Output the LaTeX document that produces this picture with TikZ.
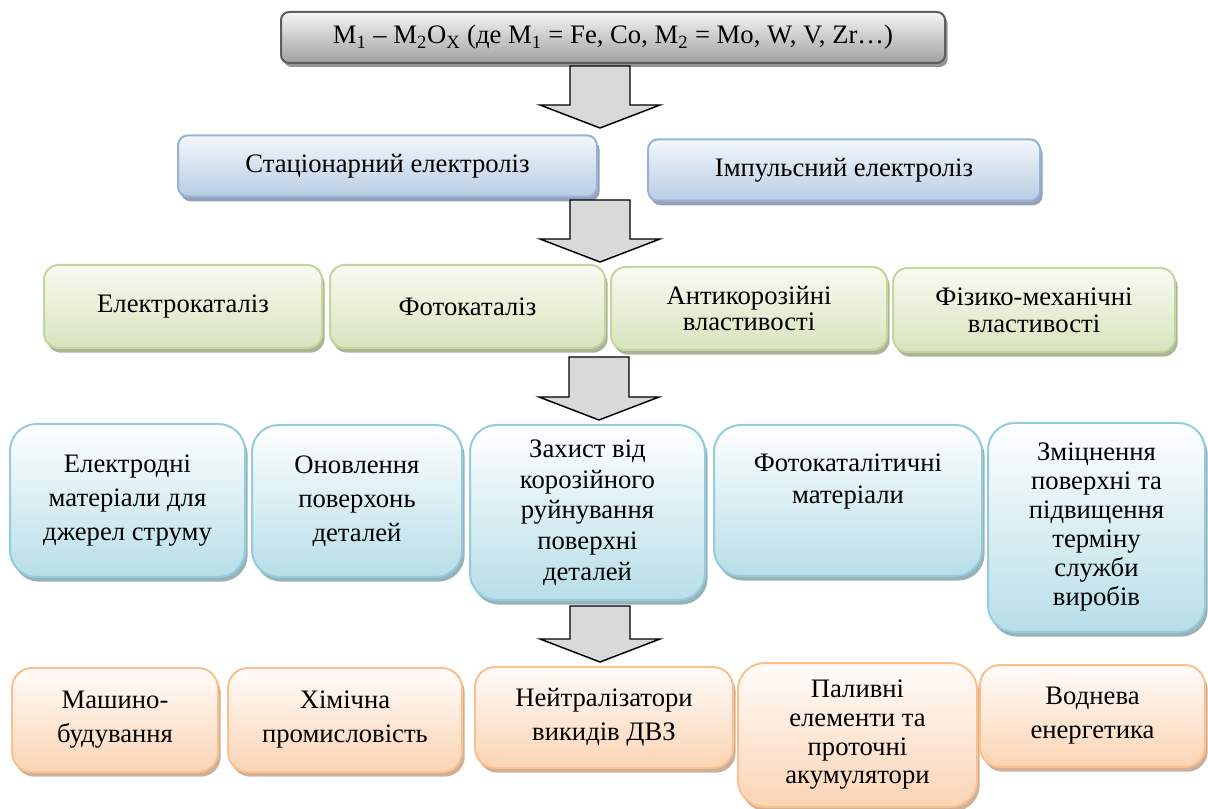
\documentclass[tikz,border=0pt]{standalone}
\usepackage{fontspec}
\setmainfont{Liberation Serif}
\usepackage{xcolor}
\usepackage{tikz}
\usetikzlibrary{shadows}
\definecolor{gline}{HTML}{5E5E5E}
\definecolor{gtop}{HTML}{F5F5F5}
\definecolor{gbot}{HTML}{A0A0A0}
\definecolor{gshade}{HTML}{8A8A8A}
\definecolor{bline}{HTML}{95B3D7}
\definecolor{btop}{HTML}{F3F6FB}
\definecolor{bbot}{HTML}{B9CDE5}
\definecolor{bshade}{HTML}{8798AE}
\definecolor{lline}{HTML}{C3D69B}
\definecolor{ltop}{HTML}{F8FBF2}
\definecolor{lbot}{HTML}{D7E4BD}
\definecolor{lshade}{HTML}{A2AC8C}
\definecolor{cline}{HTML}{93CDDD}
\definecolor{ctop}{HTML}{FFFFFF}
\definecolor{cbot}{HTML}{B7DEE8}
\definecolor{cshade}{HTML}{8EA8B0}
\definecolor{oline}{HTML}{FAC090}
\definecolor{otop}{HTML}{FFFCFA}
\definecolor{obot}{HTML}{FBD4B4}
\definecolor{oshade}{HTML}{C8A78C}
\definecolor{afill}{HTML}{D9D9D9}

\begin{document}
\begin{tikzpicture}[x=0.75pt,y=-0.75pt,
  card/.style={align=center,line width=1.5pt,inner sep=2pt,
    font=\fontsize{20}{25.5}\selectfont},
  lines/.style={font=\fontsize{20}{#1}\selectfont},
  oxidebox/.style={card,rounded corners=6pt,draw=gline,top color=gtop,bottom color=gbot,
    drop shadow={shadow xshift=2pt,shadow yshift=-3pt,fill=gshade,opacity=.9}},
  method/.style={card,rounded corners=7.5pt,draw=bline,top color=btop,bottom color=bbot,
    drop shadow={shadow xshift=2pt,shadow yshift=-3.5pt,fill=bshade,opacity=.9}},
  prop/.style={card,rounded corners=11pt,draw=lline,top color=ltop,bottom color=lbot,
    drop shadow={shadow xshift=2pt,shadow yshift=-3.5pt,fill=lshade,opacity=.9}},
  usage/.style={card,rounded corners=20pt,draw=cline,top color=ctop,bottom color=cbot,
    drop shadow={shadow xshift=2pt,shadow yshift=-3.5pt,fill=cshade,opacity=.9}},
  field/.style={card,rounded corners=15pt,draw=oline,top color=otop,bottom color=obot,
    drop shadow={shadow xshift=2pt,shadow yshift=-3.5pt,fill=oshade,opacity=.9}},
  pics/downarrow/.style={code={
    \draw[line width=1.1pt,fill=afill,line join=miter]
      (-30,0) -- (30,0) -- (30,#1-23) -- (60,#1-23) -- (0,#1)
      -- (-60,#1-23) -- (-30,#1-23) -- cycle;}}]
\useasboundingbox (0,0) rectangle (1208,809);
% source
\node[oxidebox,minimum width=498pt,minimum height=38.25pt] (oxide) at (613,37.5)
  {M\textsubscript{1} – M\textsubscript{2}O\textsubscript{X} (де M\textsubscript{1} = Fe, Co, M\textsubscript{2} = Mo, W, V, Zr…)};
% deposition
\node[method,minimum width=314.25pt,minimum height=46pt] (stat) at (387.5,166) {Стаціонарний електроліз};
\node[method,minimum width=294pt,minimum height=46pt] (imp) at (844,170) {Імпульсний електроліз};
% properties
\node[prop,minimum width=208.5pt,minimum height=62.25pt] (elcat) at (183,306.5) {Електрокаталіз};
\node[prop,minimum width=206.25pt,minimum height=62.25pt] (photcat) at (467.5,306.5) {Фотокаталіз};
\node[prop,lines=20pt,minimum width=207pt,minimum height=62.25pt] (anticor) at (749,308.5) {Антикорозійні\\властивості};
\node[prop,lines=20pt,minimum width=211.5pt,minimum height=63pt] (physmech) at (1034,310) {Фізико-механічні\\властивості};
% applications
\node[usage,minimum width=176.25pt,minimum height=114.75pt] (electrode) at (127.5,500.5) {Електродні\\матеріали для\\джерел струму};
\node[usage,minimum width=157.5pt,minimum height=114pt] (renew) at (357,501) {Оновлення\\поверхонь\\деталей};
\node[usage,lines=23pt,minimum width=176.25pt,minimum height=131.25pt] (protect) at (587.5,512.5) {Захист від\\корозійного\\руйнування\\поверхні\\деталей};
\node[usage,lines=24pt,minimum width=201pt,minimum height=113.25pt] (photmat) at (848,500.5) {Фотокаталітичні\\матеріали\\[8pt]\mbox{}};
\node[usage,lines=21.75pt,minimum width=162.75pt,minimum height=156.75pt] (strength) at (1096.5,527.5) {Зміцнення\\поверхні та\\підвищення\\терміну\\служби\\виробів};
% industries
\node[field,minimum width=154.5pt,minimum height=78pt] (mach) at (115,720) {Машино-\\будування};
\node[field,minimum width=175.5pt,minimum height=78pt] (chem) at (345,720) {Хімічна\\промисловість};
\node[field,minimum width=193.5pt,minimum height=75.75pt] (neutr) at (604,717.5) {Нейтралізатори\\викидів ДВЗ};
\node[field,lines=21.5pt,rounded corners=20pt,minimum width=179.25pt,minimum height=108pt] (fuel) at (857.5,735) {Паливні\\елементи та\\проточні\\акумулятори};
\node[field,minimum width=168.75pt,minimum height=76.5pt] (hydro) at (1092.5,716) {Воднева\\енергетика};
% block arrows between the levels
\coordinate (a1) at (600,66);
\coordinate (a2) at (600,200);
\coordinate (a3) at (599,357);
\coordinate (a4) at (600,606);
\pic at (a1) {downarrow=62};
\pic at (a2) {downarrow=62};
\pic at (a3) {downarrow=63};
\pic at (a4) {downarrow=56};
\end{tikzpicture}
\end{document}
